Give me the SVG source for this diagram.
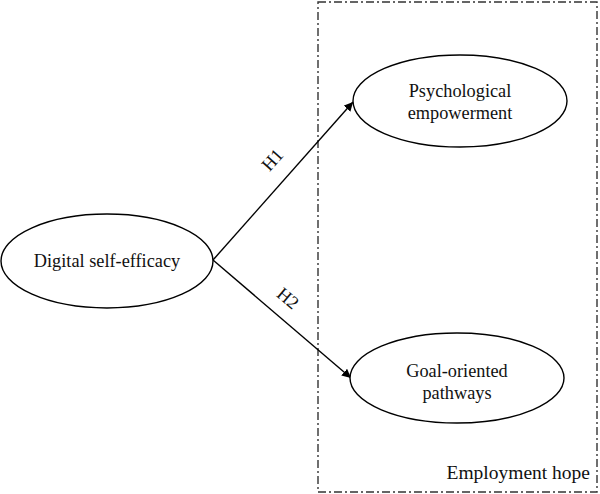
<svg xmlns="http://www.w3.org/2000/svg" width="600" height="494" viewBox="0 0 600 494">
<defs>
<style>
.node{fill:#fff;stroke:#000;stroke-width:1.4}
.t{font-family:"Liberation Serif","DejaVu Serif",serif;font-size:18.3px;fill:#111;text-anchor:middle}
.edge{stroke:#000;stroke-width:1.4;fill:none}
.box{fill:none;stroke:#333;stroke-width:1.4;stroke-dasharray:8 3 2 3}
</style>
<marker id="arr" viewBox="0 0 10 10" refX="10" refY="5" markerWidth="9" markerHeight="9" markerUnits="userSpaceOnUse" orient="auto">
<path d="M0,0 L10,5 L0,10 z" fill="#000"/>
</marker>
</defs>
<g id="group-employment-hope">
<rect class="box" x="318" y="2" width="279" height="490"/>
<text class="t" x="590" y="479" style="text-anchor:end;font-size:19.5px">Employment hope</text>
</g>
<g id="connectors">
<line class="edge" x1="213" y1="260" x2="353" y2="102" marker-end="url(#arr)"/>
<line class="edge" x1="213" y1="260" x2="351" y2="378" marker-end="url(#arr)"/>
<text class="t" x="277" y="164" transform="rotate(-48 277 164)">H1</text>
<text class="t" x="284" y="303" transform="rotate(40 284 303)">H2</text>
</g>
<g id="node-digital">
<ellipse class="node" cx="107" cy="261" rx="106" ry="47"/>
<text class="t" x="107" y="267">Digital self-efficacy</text>
</g>
<g id="node-psych">
<ellipse class="node" cx="460" cy="101" rx="107" ry="46"/>
<text class="t" x="460" y="97">Psychological</text>
<text class="t" x="460" y="119">empowerment</text>
</g>
<g id="node-goal">
<ellipse class="node" cx="457" cy="378" rx="107" ry="45"/>
<text class="t" x="457" y="377">Goal-oriented</text>
<text class="t" x="457" y="399">pathways</text>
</g>
</svg>
